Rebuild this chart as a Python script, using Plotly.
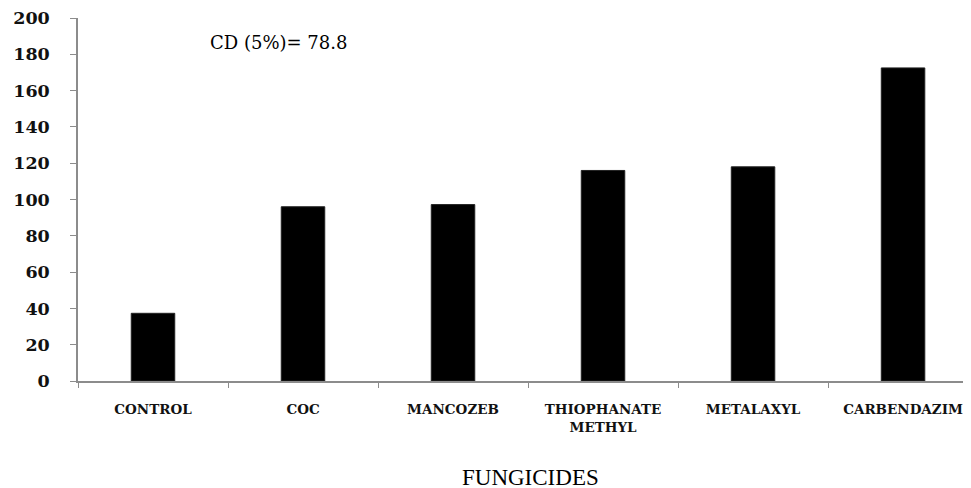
import plotly.graph_objects as go

# values
fungicides = ["CONTROL", "COC", "MANCOZEB", "THIOPHANATE<br>METHYL", "METALAXYL", "CARBENDAZIM"]
growth = [37.3, 96.0, 97.2, 116.0, 118.0, 172.5]
y_ticks = [0, 20, 40, 60, 80, 100, 120, 140, 160, 180, 200]
cd_text = "CD (5%)= 78.8"

axis_grey = "#8c8c8c"

fig = go.Figure(
    data=[
        go.Bar(
            x=fungicides,
            y=growth,
            width=0.29,
            marker={"color": "black", "line": {"color": "#222222", "width": 1}},
            showlegend=False,
        )
    ]
)

# page body has an 8px margin, so the figure is a bit smaller than the window
fig.update_layout(
    template="none",
    width=963,
    height=480,
    paper_bgcolor="white",
    plot_bgcolor="white",
    margin={"l": 70, "r": 0, "t": 10, "b": 107},
)

fig.update_xaxes(
    type="category",
    range=[-0.5, 5.453],
    showline=True,
    linecolor=axis_grey,
    linewidth=1.5,
    ticks="outside",
    tickson="boundaries",
    ticklen=5,
    tickcolor=axis_grey,
    showgrid=False,
    zeroline=False,
    tickfont={"family": "DejaVu Serif", "size": 13.5, "color": "#111111", "weight": "bold"},
    ticklabelstandoff=15,
    automargin=False,
)

fig.update_yaxes(
    range=[0, 200],
    tickvals=y_ticks,
    showline=True,
    linecolor=axis_grey,
    linewidth=1.5,
    ticks="outside",
    ticklen=6,
    tickcolor=axis_grey,
    showgrid=False,
    zeroline=False,
    tickfont={"family": "DejaVu Serif", "size": 17.5, "color": "#111111", "weight": "bold"},
    ticklabelstandoff=17,
    automargin=False,
)

# CD value in the upper left of the plot
fig.add_annotation(
    text=cd_text,
    xref="paper",
    yref="paper",
    x=(200 - 70) / 893,
    y=1 - (34 - 10) / 363,
    xanchor="left",
    yanchor="middle",
    showarrow=False,
    font={"family": "DejaVu Serif", "size": 18, "color": "black"},
)

# axis title, sitting low against the bottom edge like the original
fig.add_annotation(
    text="FUNGICIDES",
    xref="paper",
    yref="paper",
    x=(522 - 70) / 893,
    y=-(455 - 373) / 363,
    xanchor="center",
    yanchor="top",
    showarrow=False,
    font={"family": "Liberation Serif", "size": 23, "color": "black"},
)

fig.write_html("out.html")
